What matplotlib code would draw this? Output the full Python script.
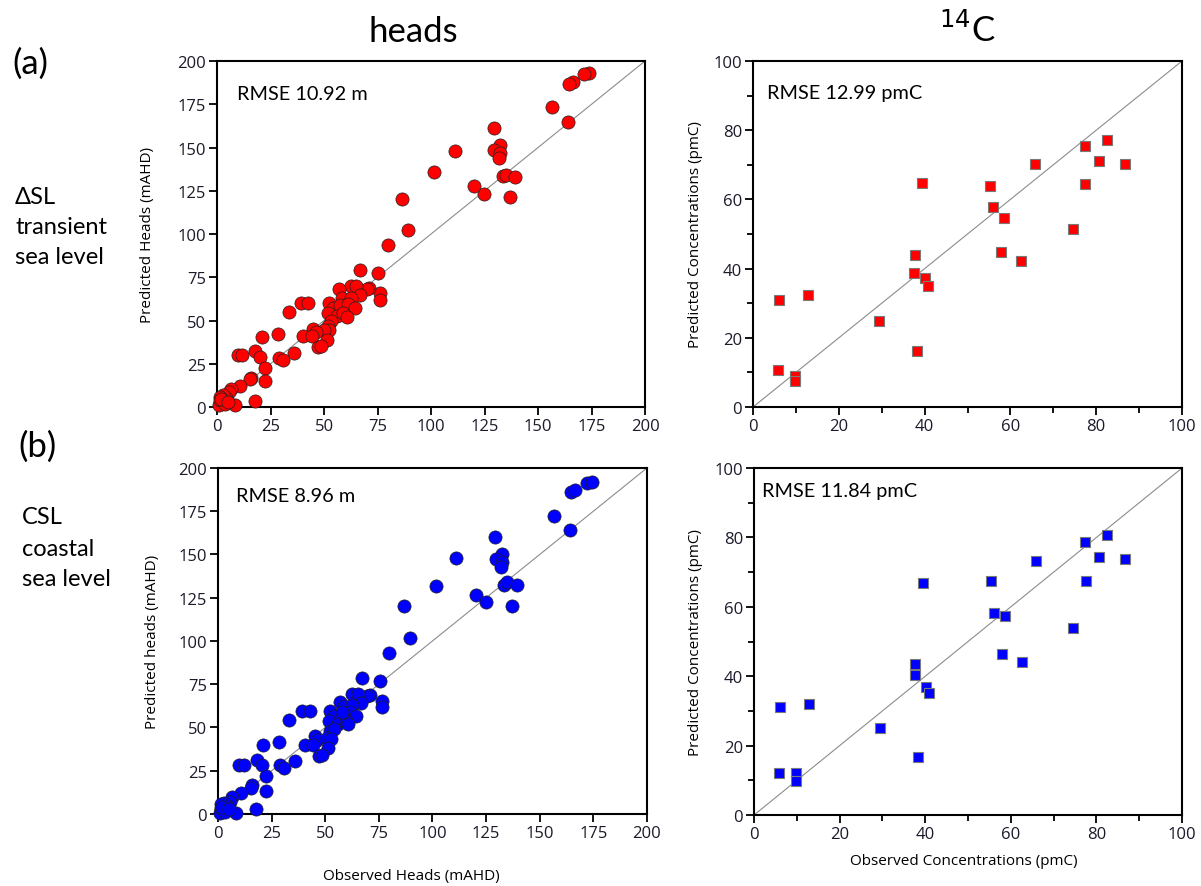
import numpy as np
import matplotlib
matplotlib.use("Agg")
import matplotlib.pyplot as plt
from matplotlib.ticker import MultipleLocator

# heads, (a) transient sea level
obs_heads_a = [174.0, 171.7, 166.2, 164.4, 156.6, 163.9, 129.3, 132.3, 129.5, 132.0, 131.8, 111.1,
               101.3, 133.5, 135.1, 139.1, 120.3, 124.8, 137.0, 86.4, 89.2, 79.8, 66.9, 75.2,
               76.2, 76.2, 71.0, 70.0, 62.6, 65.1, 57.2, 67.0, 58.6, 62.5, 52.5, 39.4, 42.7, 33.6,
               54.3, 57.5, 61.4, 64.4, 52.0, 55.9, 59.0, 60.5, 53.3, 52.0, 52.3, 50.2, 45.0, 46.2,
               40.3, 44.2, 51.3, 47.0, 48.5, 28.3, 20.9, 36.2, 28.8, 30.8, 17.9, 20.2, 9.6, 11.8,
               22.3, 15.9, 15.6, 22.4, 10.9, 6.7, 5.6, 4.4, 2.8, 1.2, 1.6, 0.9, 8.2, 17.7, 1.2,
               3.5, 2.0, 5.0]
pred_heads_a = [192.9, 192.3, 187.9, 186.9, 173.3, 164.8, 161.2, 151.3, 148.5, 146.7, 143.7, 148.1,
                135.6, 133.5, 134.2, 133.1, 127.5, 123.3, 121.2, 120.2, 102.3, 93.5, 79.2, 77.3,
                66.0, 62.1, 69.0, 68.5, 69.8, 70.0, 68.2, 64.5, 62.8, 63.2, 60.0, 60.0, 60.0, 55.0,
                57.3, 58.8, 59.5, 57.2, 54.3, 52.8, 54.6, 51.8, 50.0, 47.0, 44.7, 44.4, 45.2, 43.3,
                40.8, 40.8, 39.0, 34.6, 35.5, 42.3, 40.6, 31.2, 28.5, 27.2, 32.1, 29.0, 29.8, 29.8,
                22.5, 16.9, 16.0, 15.2, 12.1, 10.2, 8.7, 5.2, 6.7, 6.0, 2.5, 1.0, 1.0, 3.3, 3.8,
                1.5, 4.5, 3.0]

# heads, (b) coastal sea level
obs_heads_b = [172.0, 174.3, 164.5, 166.5, 156.7, 163.9, 129.3, 132.5, 129.5, 132.3, 132.0, 111.1,
               101.5, 133.5, 134.9, 139.3, 120.3, 125.0, 137.1, 86.5, 89.5, 79.8, 67.1, 75.5,
               76.3, 76.3, 70.8, 69.6, 62.6, 65.1, 57.1, 66.9, 58.8, 62.6, 52.4, 39.2, 42.8, 33.2,
               54.3, 61.5, 64.3, 51.8, 56.0, 59.5, 60.4, 57.6, 52.1, 54.2, 45.1, 46.3, 40.5, 44.4,
               50.6, 52.6, 51.5, 47.0, 48.6, 28.3, 21.0, 36.1, 28.8, 30.8, 18.2, 20.4, 9.8, 12.0,
               22.3, 15.9, 15.6, 22.3, 10.7, 6.5, 5.4, 4.4, 2.8, 1.2, 1.6, 0.9, 8.2, 17.6, 1.2,
               3.5, 2.0, 5.0]
pred_heads_b = [191.3, 191.9, 186.1, 187.1, 172.2, 163.9, 160.3, 150.4, 147.2, 145.6, 142.7, 147.7,
                131.5, 132.5, 134.0, 132.3, 126.7, 122.3, 120.3, 120.2, 102.0, 93.3, 78.5, 77.1,
                65.4, 61.7, 68.5, 68.1, 69.4, 69.4, 64.6, 64.2, 62.3, 63.1, 59.4, 59.4, 59.4, 54.2,
                56.9, 58.8, 56.9, 54.0, 52.1, 54.0, 52.1, 58.8, 47.8, 49.2, 44.9, 42.8, 40.1, 40.1,
                43.8, 43.4, 38.0, 33.4, 34.3, 41.5, 39.9, 30.9, 28.4, 26.8, 31.4, 28.4, 28.4, 28.4,
                22.2, 16.8, 15.2, 13.3, 12.2, 9.6, 7.1, 4.6, 6.2, 5.6, 2.3, 0.8, 0.6, 2.9, 3.6,
                1.4, 4.2, 2.8]

# 14C, same observations for both cases
obs_c14 = [6.1, 12.8, 5.8, 9.9, 9.9, 29.4, 38.3, 37.7, 37.5, 40.1, 40.9, 39.5,
           55.3, 56.0, 58.6, 57.9, 62.5, 65.8, 74.6, 77.4, 77.5, 80.6, 82.4, 86.6]
pred_c14_a = [30.8, 32.5, 10.8, 8.9, 7.4, 25.0, 16.3, 44.0, 38.6, 37.3, 34.9, 64.6,
              64.0, 57.9, 54.5, 44.9, 42.3, 70.3, 51.5, 75.5, 64.4, 71.1, 77.3, 70.1]
pred_c14_b = [31.1, 32.1, 12.1, 12.1, 9.8, 25.1, 16.7, 43.5, 40.5, 36.8, 35.1, 67.0,
              67.4, 58.1, 57.4, 46.4, 44.1, 73.1, 53.8, 78.7, 67.4, 74.3, 80.8, 73.7]

rmse_text = ["RMSE 10.92 m", "RMSE 12.99 pmC", "RMSE 8.96 m", "RMSE 11.84 pmC"]

plt.rcParams['font.family'] = ['Open Sans', 'DejaVu Sans']
big_font = ['Lato', 'DejaVu Sans']

fig = plt.figure(figsize=(12.01, 8.87), dpi=100)

rects = [[0.1807, 0.5400, 0.3564, 0.3901],
         [0.6270, 0.5400, 0.3572, 0.3901],
         [0.1815, 0.0812, 0.3572, 0.3901],
         [0.6278, 0.0800, 0.3564, 0.3912]]
axs = [fig.add_axes(r) for r in rects]


def style_axis(ax, vmax, major, minor):
    ax.set_xlim(0, vmax)
    ax.set_ylim(0, vmax)
    ax.plot([0, vmax], [0, vmax], color='#8c8c8c', lw=0.8, zorder=1)
    ax.xaxis.set_major_locator(MultipleLocator(major))
    ax.yaxis.set_major_locator(MultipleLocator(major))
    if minor:
        ax.xaxis.set_minor_locator(MultipleLocator(minor))
        ax.yaxis.set_minor_locator(MultipleLocator(minor))
    ax.tick_params(which='major', direction='out', length=6, width=1.3, labelsize=12,
                   colors='black', labelcolor='#1a1a2a', pad=2)
    ax.tick_params(which='minor', direction='out', length=4, width=1.3)
    for s in ax.spines.values():
        s.set_linewidth(1.5)


# heads panels
style_axis(axs[0], 200, 25, None)
axs[0].scatter(obs_heads_a, pred_heads_a, s=90, c='#ff0000', edgecolors='#202020',
               linewidths=0.5, zorder=3, clip_on=False)
style_axis(axs[2], 200, 25, None)
axs[2].scatter(obs_heads_b, pred_heads_b, s=90, c='#0000ff', edgecolors='#202020',
               linewidths=0.5, zorder=3, clip_on=False)

# 14C panels
style_axis(axs[1], 100, 20, 10)
axs[1].scatter(obs_c14, pred_c14_a, s=58, marker='s', c='#ff0000', edgecolors='#7a7a7a',
               linewidths=0.8, zorder=3)
style_axis(axs[3], 100, 20, 10)
axs[3].scatter(obs_c14, pred_c14_b, s=58, marker='s', c='#0000ff', edgecolors='#7a7a7a',
               linewidths=0.8, zorder=3)

rmse_pos = [(0.047, 0.905), (0.033, 0.910), (0.042, 0.919), (0.019, 0.934)]
for ax, t, (x, y) in zip(axs, rmse_text, rmse_pos):
    ax.text(x, y, t, transform=ax.transAxes, fontsize=14.3, family=big_font,
            ha='left', va='center')

axs[0].set_ylabel('Predicted Heads (mAHD)', fontsize=11)
axs[0].yaxis.set_label_coords(-0.145, 0.5)
axs[1].set_ylabel('Predicted Concentrations (pmC)', fontsize=11)
axs[1].yaxis.set_label_coords(-0.117, 0.5)
axs[2].set_ylabel('Predicted heads (mAHD)', fontsize=11)
axs[2].yaxis.set_label_coords(-0.135, 0.5)
axs[3].set_ylabel('Predicted Concentrations (pmC)', fontsize=11)
axs[3].yaxis.set_label_coords(-0.119, 0.5)
axs[2].set_xlabel('Observed Heads (mAHD)', fontsize=11)
axs[2].xaxis.set_label_coords(0.45, -0.155)
axs[3].set_xlabel('Observed Concentrations (pmC)', fontsize=11)
axs[3].xaxis.set_label_coords(0.49, -0.11)

# column titles and row labels
fig.text(413 / 1201, 1 - 32 / 887, 'heads', fontsize=25, family=big_font, ha='center', va='center')
fig.text(967 / 1201, 1 - 30 / 887, r'$^{14}$C', fontsize=25, family=big_font, ha='center', va='center')
fig.text(30 / 1201, 1 - 64 / 887, '(a)', fontsize=25, family=big_font, ha='center', va='center')
fig.text(37 / 1201, 1 - 447 / 887, '(b)', fontsize=25, family=big_font, ha='center', va='center')
for i, t in enumerate(['\u0394SL', 'transient', 'sea level']):
    fig.text(15 / 1201, 1 - (198 + 30 * i) / 887, t, fontsize=17, family=big_font,
             ha='left', va='center')
for i, t in enumerate(['CSL', 'coastal', 'sea level']):
    fig.text(22 / 1201, 1 - (518 + 31 * i) / 887, t, fontsize=17, family=big_font,
             ha='left', va='center')

fig.savefig('out.png', dpi=100)
